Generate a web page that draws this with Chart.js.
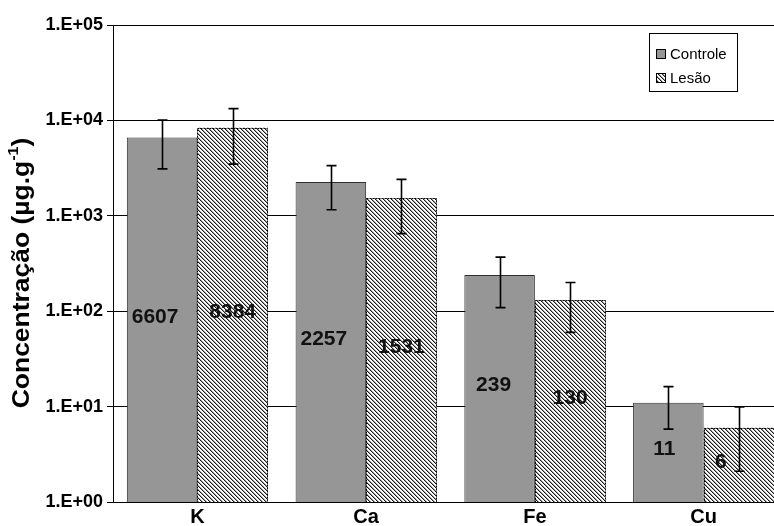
<!DOCTYPE html>
<html>
<head>
<meta charset="utf-8">
<script src="https://cdn.jsdelivr.net/npm/chart.js@4"></script>
<style>
  html, body { margin: 0; padding: 0; background: #fff; overflow: hidden; width: 774px; height: 526px; }
  canvas { display: block; }
</style>
</head>
<body>
<canvas id="chart" width="790" height="526"></canvas>
<script>
// Element concentrations (µg/g), mean and standard deviation per group
const categories = ['K', 'Ca', 'Fe', 'Cu'];
const seriesNames = ['Controle', 'Lesão'];
const controleValues = [6607, 2257, 239, 11];
const lesaoValues = [8384, 1531, 130, 6];
const controleSd = [3500, 1100, 130, 5.2];
const lesaoSd = [4900, 880, 70, 3.9];
const yTickValues = [1, 10, 100, 1000, 10000, 100000];
const yTickLabels = ['1.E+00', '1.E+01', '1.E+02', '1.E+03', '1.E+04', '1.E+05'];

// horizontal nudges (px) for the value labels inside the bars
const controleLabelShift = [-7, -7, -6, -4];
const lesaoLabelShift = [0, 0, 0, -18];

const FONT = '"Liberation Sans", Arial, Helvetica, sans-serif';
const canvas = document.getElementById('chart');
const ctx = canvas.getContext('2d');

// diagonal hatch fill for the "Lesão" series
function makeHatch() {
  const tile = document.createElement('canvas');
  tile.width = 4; tile.height = 4;
  const g = tile.getContext('2d');
  const img = g.createImageData(4, 4);
  for (let y = 0; y < 4; y++) {
    for (let x = 0; x < 4; x++) {
      const d = ((x - y) % 4 + 4) % 4;
      const v = d === 0 ? 25 : (d === 1 ? 160 : 255);
      const i = (y * 4 + x) * 4;
      img.data[i] = v; img.data[i + 1] = v; img.data[i + 2] = v; img.data[i + 3] = 255;
    }
  }
  g.putImageData(img, 0, 0);
  return ctx.createPattern(tile, 'repeat');
}
const hatch = makeHatch();
const GRAY = '#969696';

const sdSets = [controleSd, lesaoSd];
const shiftSets = [controleLabelShift, lesaoLabelShift];

// dotted outline for hatched bars, error bars and value labels
const barExtras = {
  id: 'barExtras',
  afterDatasetsDraw(chart) {
    const c = chart.ctx;
    const yScale = chart.scales.y;
    c.save();
    // dotted border around hatched bars
    const hMeta = chart.getDatasetMeta(1);
    c.strokeStyle = '#000';
    c.lineWidth = 1;
    c.setLineDash([2, 1]);
    hMeta.data.forEach(el => {
      const half = el.width / 2;
      c.strokeRect(Math.round(el.x - half) + 0.5, Math.round(el.y) + 0.5,
                   Math.round(el.width) - 1, Math.round(el.base - el.y));
    });
    c.setLineDash([]);

    // error bars
    c.strokeStyle = '#000';
    c.lineWidth = 1.6;
    chart.data.datasets.forEach((ds, di) => {
      const meta = chart.getDatasetMeta(di);
      meta.data.forEach((el, j) => {
        const v = ds.data[j], sd = sdSets[di][j];
        const yt = yScale.getPixelForValue(v + sd);
        const yb = yScale.getPixelForValue(Math.max(v - sd, 1e-3));
        const x = Math.round(el.x) + 0.5;
        c.beginPath();
        c.moveTo(x, yt); c.lineTo(x, yb);
        c.moveTo(x - 5, yt); c.lineTo(x + 5, yt);
        c.moveTo(x - 5, yb); c.lineTo(x + 5, yb);
        c.stroke();
      });
    });

    // value labels at the middle of each bar
    c.fillStyle = '#111';
    c.font = 'bold 21px ' + FONT;
    c.textAlign = 'center';
    c.textBaseline = 'middle';
    chart.data.datasets.forEach((ds, di) => {
      const meta = chart.getDatasetMeta(di);
      meta.data.forEach((el, j) => {
        const y = (el.y + el.base) / 2 - 3;
        c.fillText(String(ds.data[j]), el.x + shiftSets[di][j], y);
      });
    });
    c.restore();
  }
};

// boxed legend and rotated axis title with superscript
const decorations = {
  id: 'decorations',
  afterDraw(chart) {
    const c = chart.ctx;
    c.save();
    // legend box
    const bx = 649.5, by = 33.5, bw = 88, bh = 58;
    c.fillStyle = '#fff';
    c.fillRect(bx, by, bw, bh);
    c.strokeStyle = '#000';
    c.lineWidth = 1;
    c.strokeRect(bx, by, bw, bh);
    const fills = [GRAY, hatch];
    const rows = [54, 78];
    c.font = '15px ' + FONT;
    c.textBaseline = 'middle';
    c.textAlign = 'left';
    seriesNames.forEach((name, i) => {
      const sy = rows[i];
      c.fillStyle = fills[i];
      c.fillRect(656, sy - 5, 10, 10);
      c.strokeStyle = '#000';
      c.strokeRect(656.5, sy - 4.5, 9, 9);
      c.fillStyle = '#000';
      c.fillText(name, 670, sy + 1);
    });

    // y axis title (slightly stretched along its length)
    c.translate(21, 273);
    c.rotate(-Math.PI / 2);
    c.scale(1.15, 1);
    const main = 'Concentração (µg.g';
    const sup = '-1';
    const tail = ')';
    const bigFont = 'bold 23px ' + FONT;
    const smallFont = 'bold 14px ' + FONT;
    c.font = bigFont;
    const wMain = c.measureText(main).width;
    const wTail = c.measureText(tail).width;
    c.font = smallFont;
    const wSup = c.measureText(sup).width;
    let x = -(wMain + wSup + wTail) / 2;
    c.fillStyle = '#000';
    c.textBaseline = 'alphabetic';
    c.font = bigFont;
    c.fillText(main, x, 8);
    x += wMain;
    c.font = smallFont;
    c.fillText(sup, x, -3);
    x += wSup;
    c.font = bigFont;
    c.fillText(tail, x, 8);
    c.restore();
  }
};

new Chart(canvas, {
  type: 'bar',
  data: {
    labels: categories,
    datasets: [
      {
        label: seriesNames[0],
        data: controleValues,
        backgroundColor: GRAY,
        borderColor: '#303030',
        borderWidth: 1,
        categoryPercentage: 0.836,
        barPercentage: 1.0
      },
      {
        label: seriesNames[1],
        data: lesaoValues,
        backgroundColor: hatch,
        borderWidth: 0,
        categoryPercentage: 0.836,
        barPercentage: 1.0
      }
    ]
  },
  options: {
    responsive: false,
    animation: false,
    layout: { padding: { top: 25, right: 2, left: 0, bottom: 0 } },
    plugins: {
      legend: { display: false },
      tooltip: { enabled: false }
    },
    scales: {
      x: {
        grid: { display: false, drawTicks: false },
        border: { display: true, color: '#000', width: 1 },
        ticks: { color: '#000', font: { family: FONT, size: 20, weight: 'bold' }, padding: 3 },
        afterFit(s) { s.height = 24; }
      },
      y: {
        type: 'logarithmic',
        min: 1,
        max: 100000,
        afterBuildTicks(s) { s.ticks = yTickValues.map(v => ({ value: v })); },
        grid: { color: '#000', lineWidth: 1, drawTicks: true, tickLength: 6 },
        border: { display: true, color: '#000', width: 1 },
        ticks: {
          color: '#000',
          font: { family: FONT, size: 18, weight: 'bold' },
          padding: 4,
          callback: (value) => yTickLabels[yTickValues.indexOf(value)]
        },
        afterFit(s) { s.width = 113; }
      }
    }
  },
  plugins: [barExtras, decorations]
});
</script>
</body>
</html>
